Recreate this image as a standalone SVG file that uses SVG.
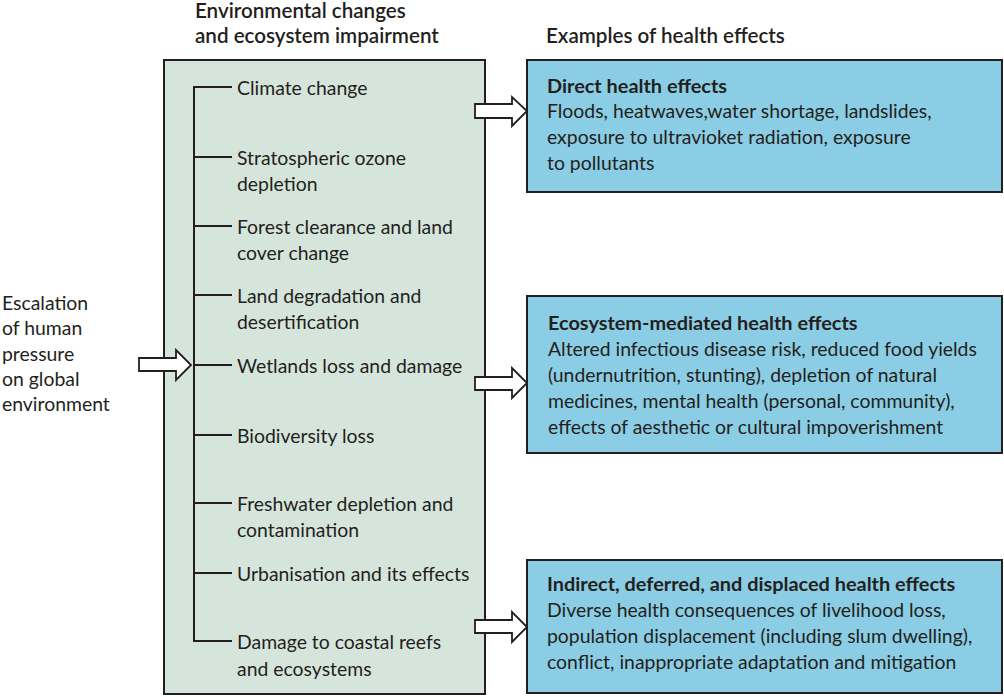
<svg xmlns="http://www.w3.org/2000/svg" width="1004" height="697" viewBox="0 0 1004 697">
<style>
text{font-family:Lato,"Open Sans","Liberation Sans",sans-serif;font-size:19.4px;fill:#231f20}
.h{font-weight:600;font-size:20.6px}
.b{font-weight:bold;font-size:19.9px}
.box{stroke:#231f20;stroke-width:2}
.green{fill:#d6e5dc}
.blue{fill:#8bcde4}
.arrow{fill:#ffffff;stroke:#231f20;stroke-width:1.8;stroke-linejoin:miter}
.tree{fill:none;stroke:#231f20;stroke-width:2}
</style>
<rect width="1004" height="697" fill="#ffffff"/>
<g id="headings">
<text class="h" x="195" y="18">Environmental changes</text>
<text class="h" x="195" y="43">and ecosystem impairment</text>
<text class="h" x="546" y="43">Examples of health effects</text>
</g>
<g id="pressure">
<text x="2" y="310">Escalation</text>
<text x="2" y="335">of human</text>
<text x="2" y="361">pressure</text>
<text x="2" y="386">on global</text>
<text x="2" y="411">environment</text>
</g>
<g id="env-box">
<rect class="box green" x="164" y="60" width="321" height="634"/>
<text x="237" y="95">Climate change</text>
<text x="237" y="165">Stratospheric ozone</text>
<text x="237" y="191">depletion</text>
<text x="237" y="234">Forest clearance and land</text>
<text x="237" y="260">cover change</text>
<text x="237" y="303">Land degradation and</text>
<text x="237" y="329">desertification</text>
<text x="237" y="373">Wetlands loss and damage</text>
<text x="237" y="443">Biodiversity loss</text>
<text x="237" y="511">Freshwater depletion and</text>
<text x="237" y="537">contamination</text>
<text x="237" y="581">Urbanisation and its effects</text>
<text x="237" y="649">Damage to coastal reefs</text>
<text x="237" y="676">and ecosystems</text>
</g>
<g id="direct">
<rect class="box blue" x="527" y="60" width="475" height="132"/>
<text class="b" x="547" y="93">Direct health effects</text>
<text x="547" y="118">Floods, heatwaves,water shortage, landslides,</text>
<text x="547" y="144">exposure to ultravioket radiation, exposure</text>
<text x="547" y="170">to pollutants</text>
</g>
<g id="ecosystem">
<rect class="box blue" x="527" y="296" width="475" height="157"/>
<text class="b" x="548" y="330">Ecosystem-mediated health effects</text>
<text x="548" y="356">Altered infectious disease risk, reduced food yields</text>
<text x="548" y="382">(undernutrition, stunting), depletion of natural</text>
<text x="548" y="408">medicines, mental health (personal, community),</text>
<text x="548" y="434">effects of aesthetic or cultural impoverishment</text>
</g>
<g id="indirect">
<rect class="box blue" x="527" y="560" width="475" height="133"/>
<text class="b" x="547" y="591">Indirect, deferred, and displaced health effects</text>
<text x="547" y="617">Diverse health consequences of livelihood loss,</text>
<text x="547" y="643">population displacement (including slum dwelling),</text>
<text x="547" y="669">conflict, inappropriate adaptation and mitigation</text>
</g>
<g id="connectors">
<path class="tree" d="M232,87H194V641H232M194,157H232M194,226H232M194,295H232M194,365H232M194,435H232M194,503H232M194,573H232"/>
<polygon class="arrow" points="139,358 176,358 176,350 191,365 176,380 176,371 139,371"/>
<polygon class="arrow" points="475,104 512,104 512,97 527,111 512,126 512,118 475,118"/>
<polygon class="arrow" points="475,377 512,377 512,368 527,383 512,398 512,390 475,390"/>
<polygon class="arrow" points="475,620 512,620 512,612 527,627 512,642 512,633 475,633"/>
</g>
</svg>
